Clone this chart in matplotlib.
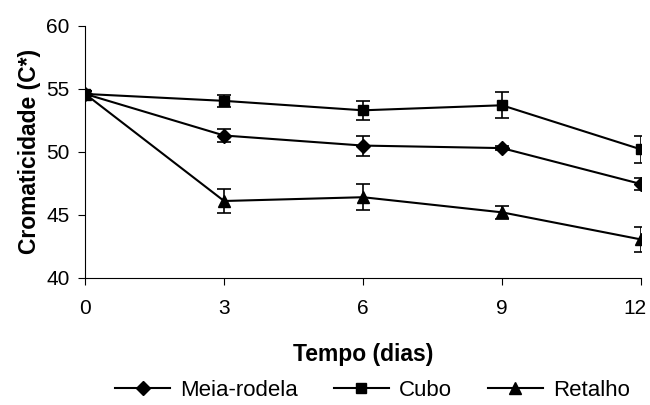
import matplotlib
matplotlib.use("Agg")
import matplotlib.pyplot as plt
import matplotlib.transforms as mtransforms
from matplotlib.lines import Line2D

plt.rcParams['font.family'] = ['Liberation Sans', 'DejaVu Sans']

days = [0, 3, 6, 9, 12]
meia = [54.6, 51.3, 50.5, 50.3, 47.45]
meia_err = [0.2, 0.5, 0.8, 0.15, 0.45]
cubo = [54.6, 54.05, 53.3, 53.7, 50.2]
cubo_err = [0.2, 0.5, 0.75, 1.05, 1.05]
retalho = [54.6, 46.1, 46.4, 45.2, 43.05]
retalho_err = [0.2, 0.95, 1.05, 0.5, 1.0]
series_names = ['Meia-rodela', 'Cubo', 'Retalho']

fig = plt.figure(figsize=(6.5, 4.05), dpi=100)
ax = fig.add_axes([0.131, 0.314, 0.855, 0.622])

kw = dict(color='black', lw=1.5, capsize=5, elinewidth=1.2, capthick=1.2)
styles = [('D', 7), ('s', 7.5), ('^', 9)]
for (m, ms), y, e, name in zip(styles, [meia, cubo, retalho],
                               [meia_err, cubo_err, retalho_err], series_names):
    ax.errorbar(days, y, yerr=e, marker=m, ms=ms, label=name, **kw)

ax.set_xlim(0, 12)
ax.set_ylim(40, 60)
ax.set_xticks(days)
ax.set_yticks([40, 45, 50, 55, 60])
for s in ['top', 'right']:
    ax.spines[s].set_visible(False)
ax.tick_params(direction='out', length=5, labelsize=15)
ax.tick_params(axis='x', pad=10)
ax.tick_params(axis='y', pad=6)
ax.set_xlabel('Tempo (dias)', fontsize=16.5, fontweight='bold', labelpad=18)
ax.set_ylabel('Cromaticidade (C*)', fontsize=16.5, fontweight='bold', labelpad=4)

fig.canvas.draw()
last = ax.get_xticklabels()[-1]
last.set_transform(last.get_transform() + mtransforms.ScaledTranslation(-6/100, 0, fig.dpi_scale_trans))

handles = [Line2D([], [], color='black', lw=1.5, marker=m, ms=ms) for m, ms in styles]
fig.legend(handles, series_names, loc='lower center', bbox_to_anchor=(0.573, -0.04), ncol=3,
           frameon=False, fontsize=16, handlelength=2.5, columnspacing=1.6,
           handletextpad=0.45)

fig.savefig('out.png', dpi=100)
